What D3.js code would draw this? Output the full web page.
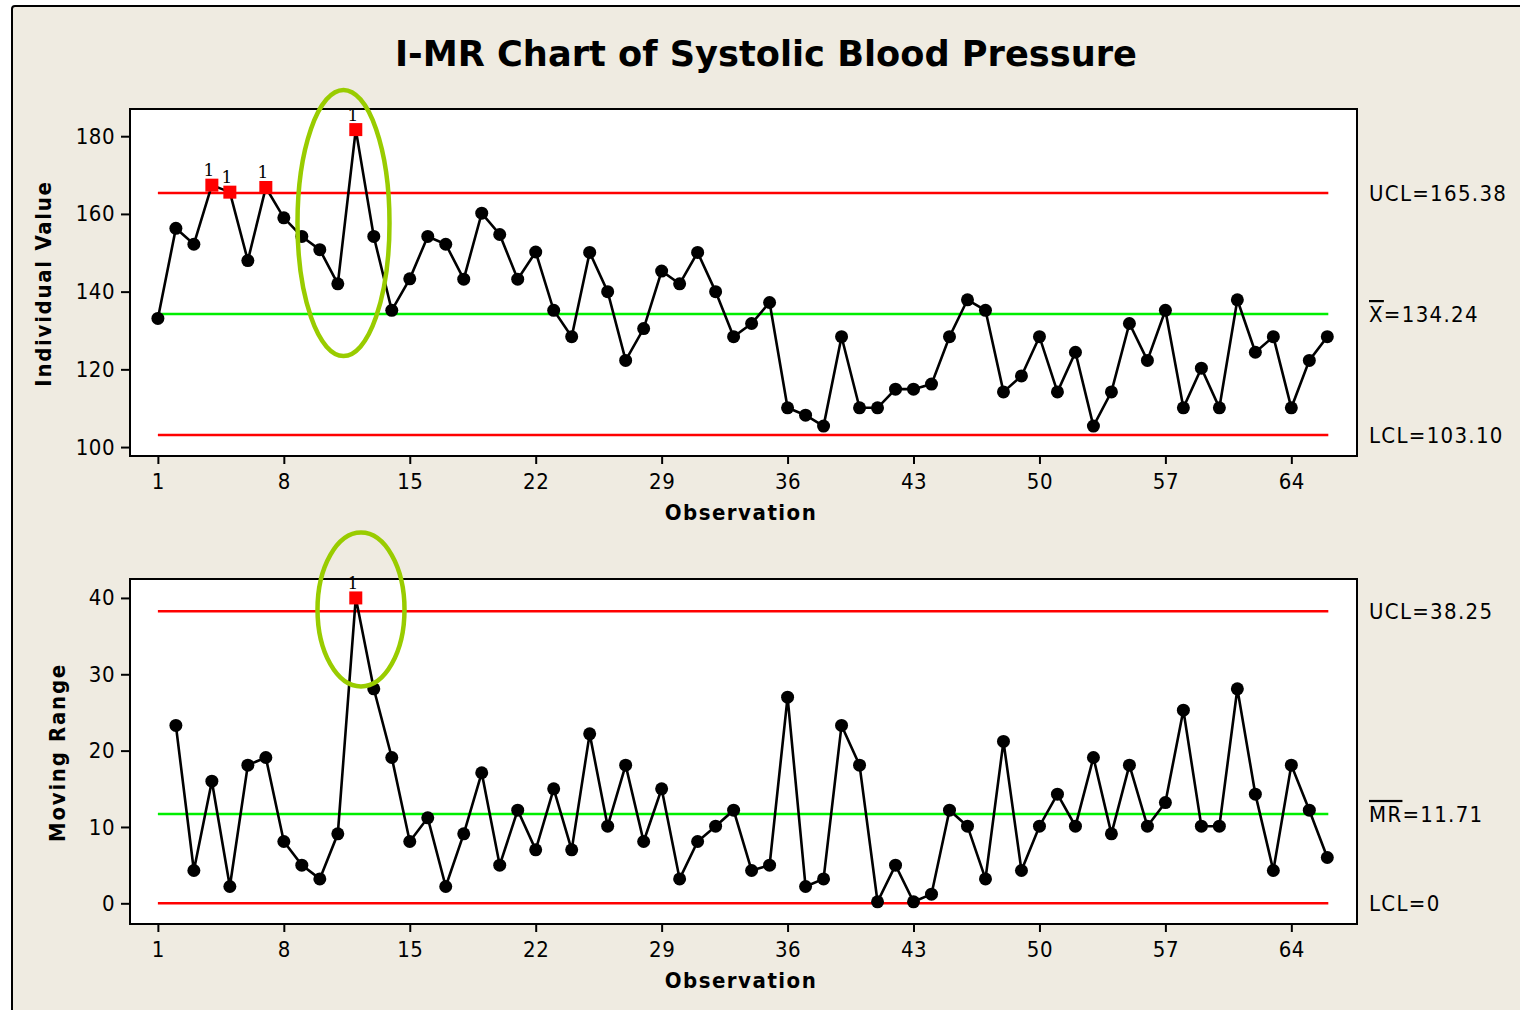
<!DOCTYPE html>
<html><head><meta charset="utf-8">
<script src="https://cdn.jsdelivr.net/npm/d3@7"></script>
<style>
html,body{margin:0;padding:0;background:#fff;}
svg{display:block;}
</style></head>
<body>
<svg id="chart" width="1520" height="1010"></svg>
<script>
// ---- data ----
const observations = d3.range(1, 67);
const individualValues = [
  133.1,156.3,152.2,167.4,165.6,148.0,166.8,159.0,154.2,150.8,
  142.0,181.7,154.2,135.2,143.3,154.2,152.2,143.2,160.2,154.7,
  143.2,150.2,135.2,128.4,150.1,140.0,122.3,130.5,145.3,142.0,
  150.1,140.0,128.4,131.8,137.2,110.1,108.2,105.4,128.4,110.1,
  110.1,114.9,114.9,116.2,128.4,137.9,135.2,114.2,118.3,128.4,
  114.2,124.4,105.4,114.2,131.8,122.3,135.2,110.1,120.3,110.1,
  137.9,124.4,128.4,110.1,122.3,128.4
];
// moving ranges start at observation 2
const movingRanges = [
  23.3,4.3,16.0,2.2,18.1,19.1,8.1,5.0,3.2,9.1,
  40.0,28.1,19.1,8.1,11.2,2.2,9.1,17.1,5.0,12.2,
  7.0,15.0,7.0,22.2,10.1,18.1,8.1,15.0,3.2,8.1,
  10.1,12.2,4.3,5.0,27.0,2.2,3.2,23.3,18.1,0.2,
  5.0,0.2,1.2,12.2,10.1,3.2,21.2,4.3,10.1,14.3,
  10.1,19.1,9.1,18.1,10.1,13.2,25.3,10.1,10.1,28.1,
  14.3,4.3,18.1,12.2,6.0
];
const flaggedI = [4, 5, 7, 12];
const flaggedMR = [12];
const xTickValues = [1, 8, 15, 22, 29, 36, 43, 50, 57, 64];
const yTicksI = [100, 120, 140, 160, 180];
const yTicksMR = [0, 10, 20, 30, 40];
const limitsI = {ucl: 165.38, center: 134.24, lcl: 103.10};
const limitsMR = {ucl: 38.25, center: 11.71, lcl: 0};

// ---- drawing ----
const svg = d3.select("#chart");
const FONT = "'DejaVu Sans Condensed','DejaVu Sans',sans-serif";
const BG = "#efebe1";

svg.append("rect").attr("x", 12).attr("y", 6).attr("width", 1700).attr("height", 1200)
  .attr("rx", 3).attr("fill", BG).attr("stroke", "#000").attr("stroke-width", 2);

svg.append("text").attr("x", 766).attr("y", 66).attr("text-anchor", "middle")
  .attr("font-family", FONT).attr("font-weight", "bold").attr("font-size", 36)
  .attr("textLength", 742).attr("lengthAdjust", "spacingAndGlyphs")
  .attr("fill", "#000").text("I-MR Chart of Systolic Blood Pressure");

const x = d3.scaleLinear().domain([-0.55, 67.65]).range([130, 1357]);

function panel(cfg) {
  const {top, bottom, y, values, xs, flagged, limits, yTicks, yLabel, yLabelX, centerLabel, uclLabel, lclLabel, ellipse} = cfg;
  const g = svg.append("g");
  g.append("rect").attr("x", 130).attr("y", top).attr("width", 1227).attr("height", bottom - top)
    .attr("fill", "#fff").attr("stroke", "#000").attr("stroke-width", 2);

  // axes
  const ax = g.append("g").attr("transform", `translate(0,${bottom})`)
    .call(d3.axisBottom(x).tickValues(xTickValues).tickSize(8).tickPadding(9).tickFormat(d3.format("d")));
  ax.select(".domain").remove();
  ax.selectAll("line").attr("stroke", "#000").attr("stroke-width", 2);
  ax.selectAll("text").attr("font-family", FONT).attr("font-size", 22).attr("letter-spacing", 0.5).attr("fill", "#000");

  const ay = g.append("g").attr("transform", `translate(130,0)`)
    .call(d3.axisLeft(y).tickValues(yTicks).tickSize(9).tickPadding(6));
  ay.select(".domain").remove();
  ay.selectAll("line").attr("stroke", "#000").attr("stroke-width", 2);
  ay.selectAll("text").attr("font-family", FONT).attr("font-size", 22).attr("letter-spacing", 0.5).attr("fill", "#000");

  // axis titles
  g.append("text").attr("x", 741).attr("y", bottom + 64).attr("text-anchor", "middle")
    .attr("font-family", FONT).attr("font-weight", "bold").attr("font-size", 22)
    .attr("letter-spacing", 1.5).attr("fill", "#000").text("Observation");
  g.append("text").attr("transform", `translate(${yLabelX},${(top + bottom) / 2 + 1}) rotate(-90)`)
    .attr("text-anchor", "middle").attr("font-family", FONT).attr("font-weight", "bold")
    .attr("font-size", 22).attr("letter-spacing", 1.7).attr("fill", "#000").text(yLabel);

  // control lines
  const x0 = x(observations[0]), x1 = x(observations[observations.length - 1]) + 1;
  [["ucl", "#ff0000"], ["center", "#00ee00"], ["lcl", "#ff0000"]].forEach(([k, c]) => {
    g.append("line").attr("x1", x0).attr("x2", x1).attr("y1", y(limits[k])).attr("y2", y(limits[k]))
      .attr("stroke", c).attr("stroke-width", 2.5);
  });

  // limit labels
  const lab = (v, build) => {
    const t = g.append("text").attr("x", 1369).attr("y", y(v) + 8)
      .attr("font-family", FONT).attr("font-size", 22).attr("letter-spacing", 1.3).attr("fill", "#000");
    build(t);
  };
  lab(limits.ucl, t => t.text(uclLabel));
  lab(limits.center, t => {
    t.append("tspan").style("text-decoration", "overline").text(centerLabel[0]);
    t.append("tspan").text(centerLabel[1]);
  });
  lab(limits.lcl, t => t.text(lclLabel));

  // data line
  const pts = xs.map((o, i) => ({o, v: values[i]}));
  g.append("path").datum(pts)
    .attr("d", d3.line().x(d => x(d.o)).y(d => y(d.v)))
    .attr("fill", "none").attr("stroke", "#000").attr("stroke-width", 2.6);

  g.selectAll("circle.pt").data(pts.filter(d => !flagged.includes(d.o))).enter()
    .append("circle").attr("cx", d => x(d.o)).attr("cy", d => y(d.v)).attr("r", 6.5).attr("fill", "#000");

  const fl = pts.filter(d => flagged.includes(d.o));
  g.selectAll("rect.flag").data(fl).enter().append("rect")
    .attr("x", d => x(d.o) - 6.5).attr("y", d => y(d.v) - 6.5).attr("width", 13).attr("height", 13)
    .attr("fill", "#ff0000");
  g.selectAll("text.flag").data(fl).enter().append("text")
    .attr("x", d => x(d.o) - 3).attr("y", d => y(d.v) - 9).attr("text-anchor", "middle")
    .attr("font-family", "'DejaVu Serif','Liberation Serif',serif").attr("font-size", 17).attr("fill", "#000").text("1");

  // highlight ellipse
  g.append("ellipse").attr("cx", ellipse.cx).attr("cy", ellipse.cy).attr("rx", ellipse.rx).attr("ry", ellipse.ry)
    .attr("fill", "none").attr("stroke", "#99cc00").attr("stroke-width", 4.5);
}

panel({
  top: 109, bottom: 456,
  y: d3.scaleLinear().domain([97.7, 187.0]).range([456, 109]),
  values: individualValues, xs: observations, flagged: flaggedI, limits: limitsI,
  yTicks: yTicksI, yLabel: "Individual Value", yLabelX: 51,
  uclLabel: "UCL=165.38", centerLabel: ["X", "=134.24"], lclLabel: "LCL=103.10",
  ellipse: {cx: 343.5, cy: 223, rx: 46, ry: 133}
});
panel({
  top: 579, bottom: 924,
  y: d3.scaleLinear().domain([-2.71, 42.48]).range([924, 579]),
  values: movingRanges, xs: observations.slice(1), flagged: flaggedMR, limits: limitsMR,
  yTicks: yTicksMR, yLabel: "Moving Range", yLabelX: 65,
  uclLabel: "UCL=38.25", centerLabel: ["MR", "=11.71"], lclLabel: "LCL=0",
  ellipse: {cx: 361, cy: 609.5, rx: 43.5, ry: 77}
});
</script>
</body></html>
